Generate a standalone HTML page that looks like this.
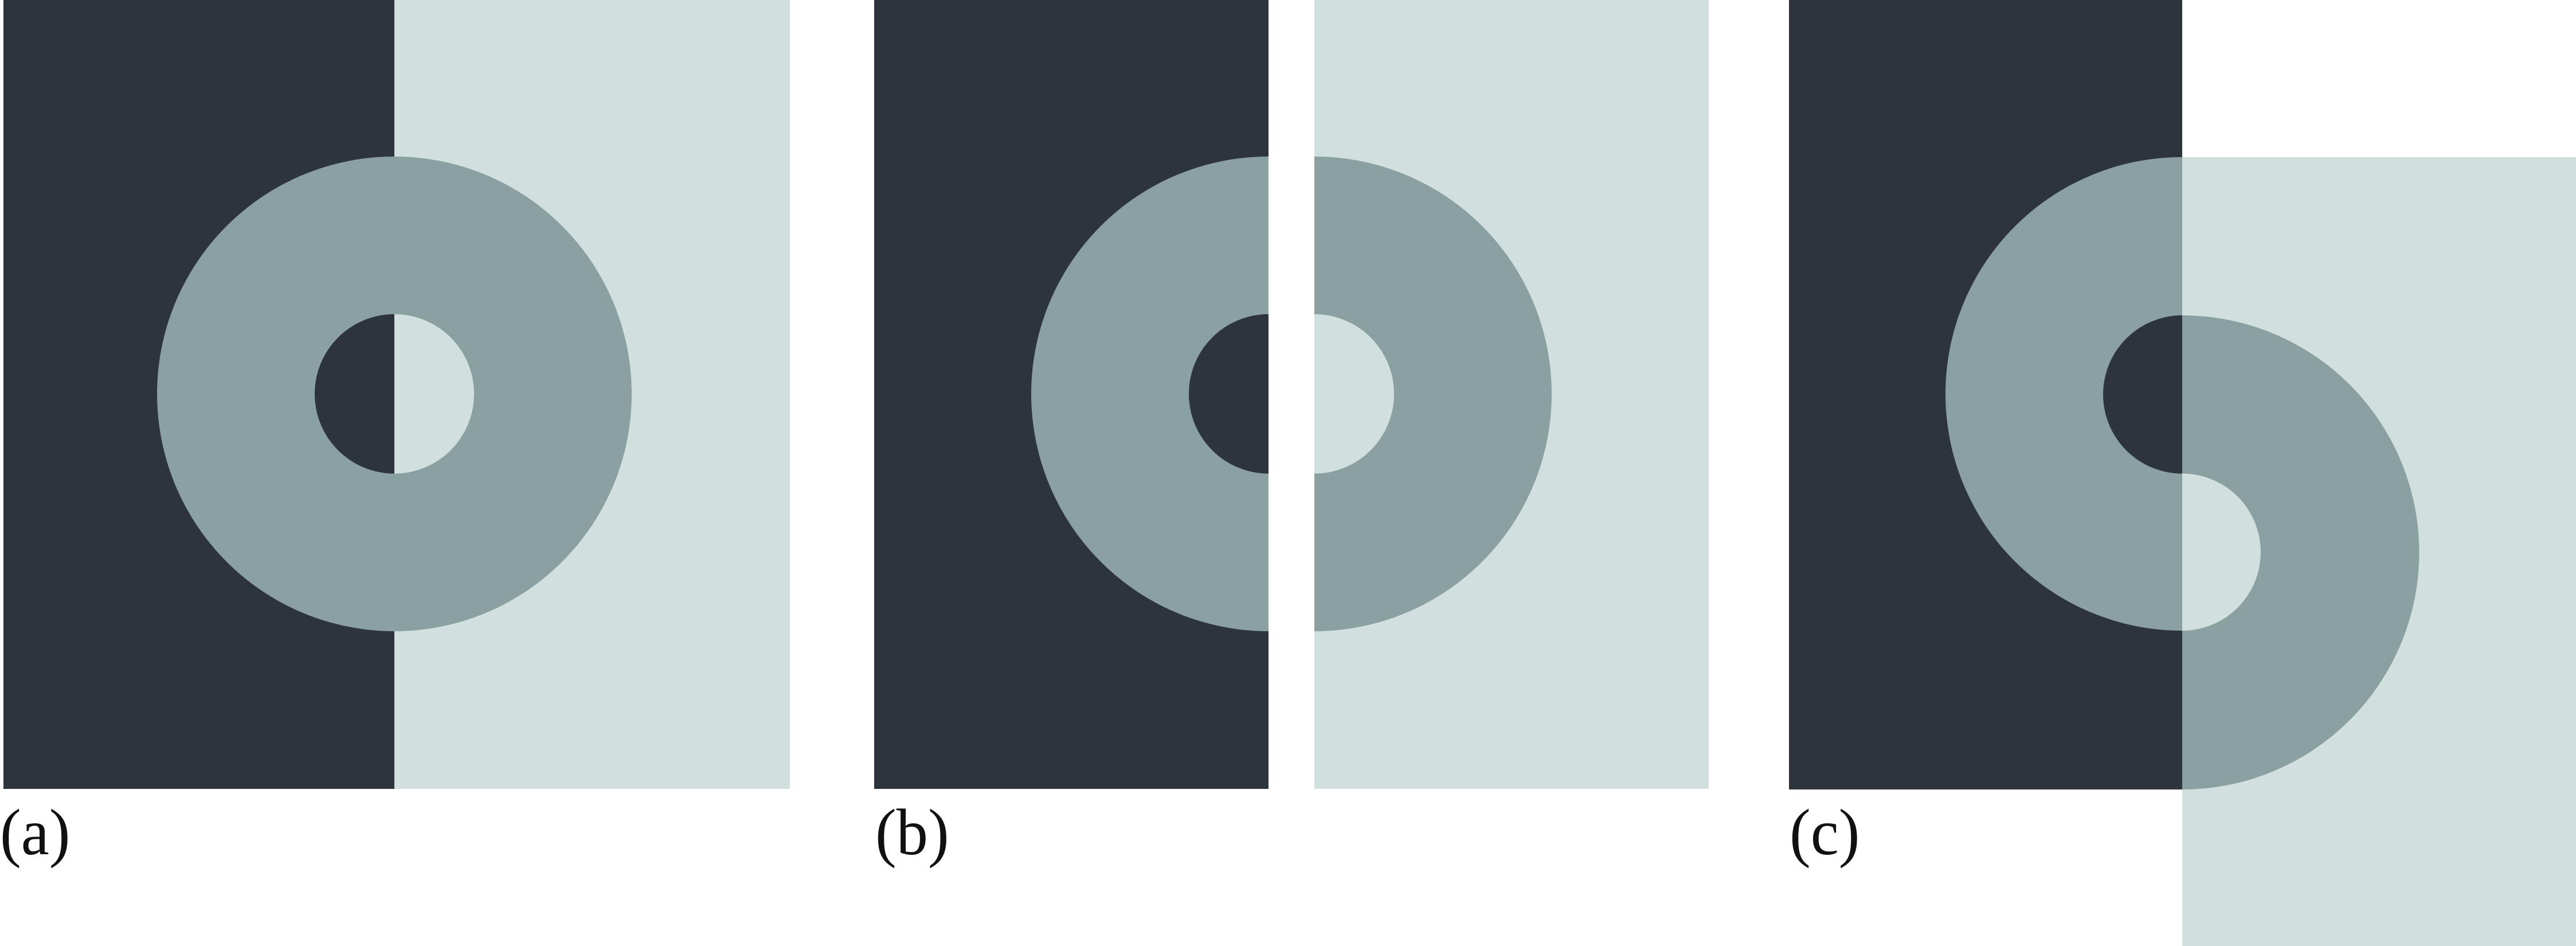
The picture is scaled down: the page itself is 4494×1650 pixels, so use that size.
<!DOCTYPE html>
<html><head><meta charset="utf-8"><style>
html,body{margin:0;padding:0;background:#fff;width:4494px;height:1650px;overflow:hidden}
text{font-family:"Liberation Serif",serif;fill:#111}
</style></head><body>
<svg width="4494" height="1650" viewBox="0 0 4494 1650">
<g>
<rect x="6" y="0" width="682" height="1376" fill="#2d343b"/>
<rect x="688" y="0" width="690" height="1376" fill="#d1dfdf"/>
<circle cx="688" cy="687" r="414" fill="#8aa0a1"/>
<path d="M688,548 A139,139 0 0 0 688,826 Z" fill="#2d343b"/>
<path d="M688,548 A139,139 0 0 1 688,826 Z" fill="#d1dfdf"/>
<text x="0" y="0" font-size="96" transform="translate(0,1490) scale(1.15,1.19)">(a)</text>
</g>
<g>
<rect x="1525" y="0" width="688" height="1376" fill="#2d343b"/>
<rect x="2293" y="0" width="688" height="1376" fill="#d1dfdf"/>
<path d="M2213,273 A414,414 0 0 0 2213,1101 L2213,826 A139,139 0 0 1 2213,548 Z" fill="#8aa0a1"/>
<path d="M2293,273 A414,414 0 0 1 2293,1101 L2293,826 A139,139 0 0 0 2293,548 Z" fill="#8aa0a1"/>
<text x="0" y="0" font-size="96" transform="translate(1527,1490) scale(1.15,1.19)">(b)</text>
</g>
<g>
<rect x="3121" y="0" width="686" height="1377" fill="#2d343b"/>
<rect x="3807" y="274" width="687" height="1376" fill="#d1dfdf"/>
<path d="M3807,274 A413,413 0 0 0 3807,1100 L3807,826 A138,138 0 0 1 3807,550 Z" fill="#8aa0a1"/>
<path d="M3807,550 A413,413 0 0 1 3807,1377 L3807,1100 A137,137 0 0 0 3807,826 Z" fill="#8aa0a1"/>
<text x="0" y="0" font-size="96" transform="translate(3122,1490) scale(1.15,1.19)">(c)</text>
</g>
</svg>
</body></html>
